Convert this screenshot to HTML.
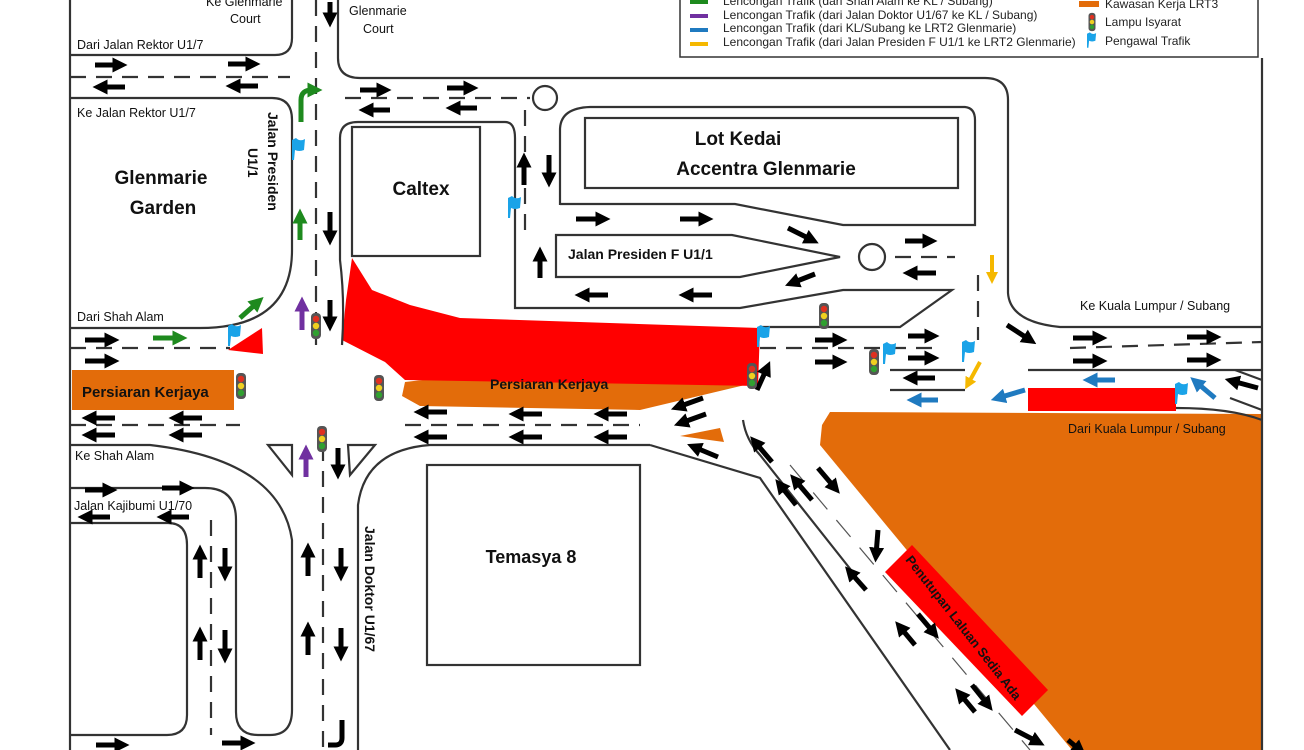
<!DOCTYPE html>
<html><head><meta charset="utf-8"><style>
html,body{margin:0;padding:0;background:#fff;}
svg{display:block;font-family:"Liberation Sans",sans-serif;}
</style></head><body>
<svg width="1304" height="750" viewBox="0 0 1304 750" xmlns="http://www.w3.org/2000/svg">
<defs>
<marker id="mk" markerWidth="3" markerHeight="3" refX="1.5" refY="1.5" orient="auto" markerUnits="strokeWidth"><path d="M0,0 L3,1.5 L0,3 z" fill="#000"/></marker>
<marker id="mg" markerWidth="3" markerHeight="3" refX="1.5" refY="1.5" orient="auto" markerUnits="strokeWidth"><path d="M0,0 L3,1.5 L0,3 z" fill="#1e8a1e"/></marker>
<marker id="mp" markerWidth="3" markerHeight="3" refX="1.5" refY="1.5" orient="auto" markerUnits="strokeWidth"><path d="M0,0 L3,1.5 L0,3 z" fill="#7030a0"/></marker>
<marker id="mb" markerWidth="3" markerHeight="3" refX="1.5" refY="1.5" orient="auto" markerUnits="strokeWidth"><path d="M0,0 L3,1.5 L0,3 z" fill="#1f7ac0"/></marker>
<marker id="my" markerWidth="3" markerHeight="3" refX="1.5" refY="1.5" orient="auto" markerUnits="strokeWidth"><path d="M0,0 L3,1.5 L0,3 z" fill="#f5b800"/></marker>
<g id="tl"><rect x="-5" y="-13" width="10" height="26" rx="4" fill="#555"/><circle cy="-7" r="3.2" fill="#e03020"/><circle cy="0" r="3.2" fill="#f0d020"/><circle cy="7" r="3.2" fill="#30a030"/></g>
<g id="fl"><path d="M0,14 V-6 L4,-8 Q8,-4 13,-7 L12,4 Q7,6 3,4 L2,14z" fill="#1aa3e8"/></g>
</defs>

<polygon points="830,412 1262,414 1262,750 1072,750 820,445 822,425" fill="#e36c0a"/>
<rect x="72" y="370" width="162" height="40" fill="#e36c0a"/>
<polygon points="405,382 440,378 750,372 745,385 640,410 420,406 402,396" fill="#e36c0a"/>
<polygon points="680,436 720,428 724,442" fill="#e36c0a"/>
<polygon points="352,258 372,290 410,305 460,318 760,328 758,386 405,380 385,362 342,340 346,300" fill="#ff0000"/>
<polygon points="228,350 262,328 263,354" fill="#ff0000"/>
<rect x="1028" y="388" width="148" height="23" fill="#ff0000"/>
<polygon points="885,572 912,545 1048,690 1022,716" fill="#ff0000"/>

<g fill="none" stroke="#333" stroke-width="2.2">
<line x1="70" y1="0" x2="70" y2="750"/>
<line x1="1262" y1="58" x2="1262" y2="750"/>
<path d="M70,55 H275 Q292,55 292,38 V0"/>
<path d="M338,0 V58 Q338,78 360,78 H985 Q1008,78 1008,100 V293 Q1010,322 1060,327 H1262"/>
<path d="M70,98 H272 Q292,98 292,120 V250 Q292,328 200,328 H70"/>
<path d="M342,345 Q345,300 340,260 V138 Q340,122 358,122 H505 Q515,122 515,138 V308 H740 L843,290 H952 L900,327 H760"/>
<rect x="352" y="127" width="128" height="129"/>
<path d="M560,205 V130 Q560,108 590,107 H965 Q975,108 975,120 V225 H843 L735,204 H560"/>
<rect x="585" y="118" width="373" height="70"/>
<polygon points="556,235 732,235 840,257 740,277 556,277"/>
<circle cx="545" cy="98" r="12"/>
<circle cx="872" cy="257" r="13"/>
<path d="M70,445 H150 Q280,460 292,540 V710 Q292,735 270,735 H258 Q236,735 236,712 V520 Q236,488 205,488 H70"/>
<path d="M70,523 H168 Q187,523 187,545 V715 Q187,735 167,735 H70"/>
<path d="M358,750 V505 Q365,450 430,445 H650"/>
<rect x="427" y="465" width="213" height="200"/>
<path d="M268,445 L292,445 L292,475 z M348,445 L375,445 L350,475 z"/>
<path d="M650,445 L760,478 L950,750"/>
<path d="M743,420 Q746,440 760,455 L855,575"/>
<path d="M1028,370 H1262 M890,370 H965 M890,390 H965"/>
<path d="M1235,370 L1262,380 M1230,398 L1262,410"/>
<path d="M1176,408 Q1230,408 1262,420"/>
</g>
<g fill="none" stroke="#333" stroke-width="2.2" stroke-dasharray="16,10">
<line x1="70" y1="77" x2="290" y2="77"/>
<line x1="345" y1="98" x2="530" y2="98"/>
<line x1="316" y1="0" x2="316" y2="345"/>
<line x1="323" y1="445" x2="323" y2="750"/>
<line x1="211" y1="520" x2="211" y2="735"/>
<line x1="70" y1="348" x2="230" y2="348"/>
<line x1="70" y1="425" x2="240" y2="425"/>
<line x1="405" y1="425" x2="640" y2="425"/>
<line x1="760" y1="348" x2="935" y2="348"/>
<line x1="1070" y1="348" x2="1262" y2="342"/>
<line x1="525" y1="110" x2="525" y2="230"/>
<line x1="895" y1="257" x2="955" y2="257"/>
<line x1="978" y1="275" x2="978" y2="340"/>
</g>
<line x1="790" y1="465" x2="1030" y2="750" stroke="#555" stroke-width="1.2" stroke-dasharray="22,14"/>

<g stroke="#000" stroke-width="5" marker-end="url(#mk)">
<line x1="95" y1="65" x2="120" y2="65"/><line x1="228" y1="64" x2="253" y2="64"/>
<line x1="125" y1="87" x2="100" y2="87"/><line x1="258" y1="86" x2="233" y2="86"/>
<line x1="330" y1="2" x2="330" y2="20"/>
<line x1="360" y1="90" x2="384" y2="90"/><line x1="447" y1="88" x2="471" y2="88"/>
<line x1="390" y1="110" x2="366" y2="110"/><line x1="477" y1="108" x2="453" y2="108"/>
<line x1="524" y1="185" x2="524" y2="160"/><line x1="549" y1="155" x2="549" y2="180"/>
<line x1="330" y1="212" x2="330" y2="238"/><line x1="330" y1="300" x2="330" y2="324"/>
<line x1="576" y1="219" x2="603" y2="219"/><line x1="680" y1="219" x2="706" y2="219"/>
<line x1="540" y1="278" x2="540" y2="254"/>
<line x1="608" y1="295" x2="582" y2="295"/><line x1="712" y1="295" x2="686" y2="295"/>
<line x1="788" y1="228" x2="812" y2="240"/><line x1="815" y1="274" x2="792" y2="283"/>
<line x1="905" y1="241" x2="930" y2="241"/><line x1="936" y1="273" x2="910" y2="273"/>
<line x1="1007" y1="325" x2="1030" y2="340"/>
<line x1="815" y1="340" x2="840" y2="340"/><line x1="815" y1="362" x2="840" y2="362"/>
<line x1="908" y1="336" x2="932" y2="336"/><line x1="908" y1="358" x2="932" y2="358"/>
<line x1="935" y1="378" x2="910" y2="378"/>
<line x1="1073" y1="338" x2="1100" y2="338"/><line x1="1073" y1="361" x2="1100" y2="361"/>
<line x1="1187" y1="337" x2="1214" y2="337"/><line x1="1187" y1="360" x2="1214" y2="360"/>
<line x1="1258" y1="388" x2="1232" y2="381"/>
<line x1="85" y1="340" x2="112" y2="340"/><line x1="85" y1="361" x2="112" y2="361"/>
<line x1="115" y1="418" x2="89" y2="418"/><line x1="115" y1="435" x2="89" y2="435"/>
<line x1="202" y1="418" x2="176" y2="418"/><line x1="202" y1="435" x2="176" y2="435"/>
<line x1="447" y1="412" x2="421" y2="412"/><line x1="447" y1="437" x2="421" y2="437"/>
<line x1="542" y1="414" x2="516" y2="414"/><line x1="542" y1="437" x2="516" y2="437"/>
<line x1="627" y1="414" x2="601" y2="414"/><line x1="627" y1="437" x2="601" y2="437"/>
<line x1="703" y1="398" x2="678" y2="407"/><line x1="706" y1="414" x2="681" y2="423"/>
<line x1="718" y1="457" x2="694" y2="447"/>
<line x1="757" y1="390" x2="767" y2="368"/>
<line x1="772" y1="462" x2="755" y2="442"/>
<line x1="818" y1="468" x2="835" y2="488"/>
<line x1="796" y1="505" x2="780" y2="485"/><line x1="812" y1="500" x2="795" y2="480"/>
<line x1="878" y1="530" x2="876" y2="555"/>
<line x1="866" y1="590" x2="850" y2="572"/>
<line x1="915" y1="645" x2="900" y2="627"/><line x1="918" y1="614" x2="934" y2="633"/>
<line x1="975" y1="712" x2="960" y2="694"/><line x1="972" y1="685" x2="988" y2="705"/>
<line x1="1015" y1="730" x2="1038" y2="742"/><line x1="1068" y1="740" x2="1080" y2="750"/>
<line x1="200" y1="578" x2="200" y2="552"/><line x1="225" y1="548" x2="225" y2="574"/>
<line x1="200" y1="660" x2="200" y2="634"/><line x1="225" y1="630" x2="225" y2="656"/>
<line x1="308" y1="576" x2="308" y2="550"/><line x1="341" y1="548" x2="341" y2="574"/>
<line x1="308" y1="655" x2="308" y2="629"/><line x1="341" y1="628" x2="341" y2="654"/>
<line x1="338" y1="448" x2="338" y2="472"/>
<line x1="85" y1="490" x2="110" y2="490"/><line x1="162" y1="488" x2="187" y2="488"/>
<line x1="110" y1="517" x2="85" y2="517"/><line x1="189" y1="517" x2="164" y2="517"/>
<line x1="96" y1="745" x2="122" y2="745"/><line x1="222" y1="743" x2="248" y2="743"/>
</g>
<path d="M342,720 V738 Q342,745 335,745 H328" stroke="#000" stroke-width="5" fill="none"/>

<g stroke="#1e8a1e" stroke-width="5" fill="none" marker-end="url(#mg)">
<path d="M301,122 V100 Q301,90 312,90 H315"/>
<line x1="300" y1="240" x2="300" y2="216"/>
<line x1="240" y1="318" x2="258" y2="302"/>
<line x1="153" y1="338" x2="180" y2="338"/>
</g>
<g stroke="#7030a0" stroke-width="5" marker-end="url(#mp)">
<line x1="302" y1="330" x2="302" y2="304"/>
<line x1="306" y1="477" x2="306" y2="452"/>
</g>
<g stroke="#1f7ac0" stroke-width="5" marker-end="url(#mb)">
<line x1="1115" y1="380" x2="1090" y2="380"/>
<line x1="938" y1="400" x2="914" y2="400"/>
<line x1="1025" y1="390" x2="998" y2="398"/>
<line x1="1215" y1="398" x2="1196" y2="382"/>
</g>
<g stroke="#f5b800" stroke-width="4" marker-end="url(#my)">
<line x1="992" y1="255" x2="992" y2="278"/>
<line x1="980" y1="362" x2="968" y2="384"/>
</g>

<use href="#tl" x="316" y="326"/><use href="#tl" x="241" y="386"/><use href="#tl" x="379" y="388"/>
<use href="#tl" x="322" y="439"/><use href="#tl" x="752" y="376"/><use href="#tl" x="824" y="316"/>
<use href="#tl" x="874" y="362"/>
<use href="#fl" x="292" y="146"/><use href="#fl" x="508" y="204"/><use href="#fl" x="228" y="332"/>
<use href="#fl" x="757" y="333"/><use href="#fl" x="883" y="350"/><use href="#fl" x="962" y="348"/>
<use href="#fl" x="1175" y="390"/>

<g font-size="12.5" fill="#111">
<text x="206" y="6">Ke Glenmarie</text><text x="230" y="23">Court</text>
<text x="349" y="15">Glenmarie</text><text x="363" y="33">Court</text>
<text x="77" y="49">Dari Jalan Rektor U1/7</text>
<text x="77" y="117">Ke Jalan Rektor U1/7</text>
<text x="77" y="321">Dari Shah Alam</text>
<text x="75" y="460">Ke Shah Alam</text>
<text x="74" y="510">Jalan Kajibumi U1/70</text>
<text x="1080" y="310">Ke Kuala Lumpur / Subang</text>
<text x="1068" y="433">Dari Kuala Lumpur / Subang</text>
</g>
<g font-weight="bold" fill="#111">
<text x="161" y="184" font-size="19" text-anchor="middle">Glenmarie</text>
<text x="163" y="214" font-size="19" text-anchor="middle">Garden</text>
<text x="421" y="195" font-size="19" text-anchor="middle">Caltex</text>
<text x="738" y="145" font-size="19" text-anchor="middle">Lot Kedai</text>
<text x="766" y="175" font-size="19" text-anchor="middle">Accentra Glenmarie</text>
<text x="568" y="259" font-size="14">Jalan Presiden F U1/1</text>
<text x="82" y="397" font-size="15">Persiaran Kerjaya</text>
<text x="490" y="389" font-size="14">Persiaran Kerjaya</text>
<text x="531" y="563" font-size="18" text-anchor="middle">Temasya 8</text>
<text transform="translate(268,112) rotate(90)" font-size="14">Jalan Presiden</text>
<text transform="translate(248,148) rotate(90)" font-size="14">U1/1</text>
<text transform="translate(365,526) rotate(90)" font-size="14">Jalan Doktor U1/67</text>
<text transform="translate(905,560) rotate(52)" font-size="13">Penutupan Laluan Sedia Ada</text>
</g>

<rect x="680" y="-2" width="578" height="59" fill="#fff" stroke="#333" stroke-width="1.5"/>
<g font-size="12" fill="#222">
<text x="723" y="5">Lencongan Trafik (dari Shah Alam ke KL / Subang)</text>
<text x="723" y="19">Lencongan Trafik (dari Jalan Doktor U1/67 ke KL / Subang)</text>
<text x="723" y="32">Lencongan Trafik (dari KL/Subang ke LRT2 Glenmarie)</text>
<text x="723" y="46">Lencongan Trafik (dari Jalan Presiden F U1/1 ke LRT2 Glenmarie)</text>
<text x="1105" y="8">Kawasan Kerja LRT3</text>
<text x="1105" y="26">Lampu Isyarat</text>
<text x="1105" y="45">Pengawal Trafik</text>
</g>
<g stroke-width="4">
<line x1="690" y1="2" x2="708" y2="2" stroke="#1e8a1e"/>
<line x1="690" y1="16" x2="708" y2="16" stroke="#7030a0"/>
<line x1="690" y1="30" x2="708" y2="30" stroke="#1f7ac0"/>
<line x1="690" y1="44" x2="708" y2="44" stroke="#f5b800"/>
</g>
<rect x="1079" y="1" width="20" height="6" fill="#e36c0a"/>
<use href="#tl" x="1092" y="22" transform="translate(1092,22) scale(0.7) translate(-1092,-22)"/>
<use href="#fl" x="1087" y="38" transform="translate(1087,38) scale(0.7) translate(-1087,-38)"/>
</svg>
</body></html>
